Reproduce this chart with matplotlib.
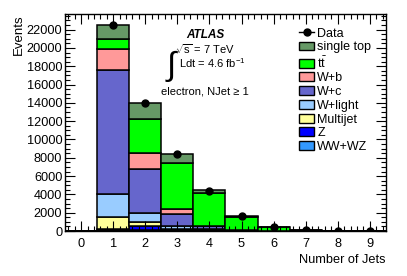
import numpy as np
import matplotlib.pyplot as plt
from matplotlib.patches import Patch
from matplotlib.lines import Line2D
from matplotlib.ticker import MultipleLocator

plt.rcParams['font.family'] = ['Liberation Sans', 'DejaVu Sans']
plt.rcParams['mathtext.fontset'] = 'custom'
plt.rcParams['mathtext.rm'] = 'Liberation Sans'
plt.rcParams['mathtext.it'] = 'Liberation Sans:italic'

njets = np.arange(10)

# stacked backgrounds, bottom to top
ww_wz      = [0, 80, 100, 60, 30, 10, 3, 1, 0, 0]
z_jets     = [0, 150, 400, 80, 30, 10, 3, 1, 0, 0]
multijet   = [0, 1330, 450, 80, 40, 10, 3, 1, 0, 0]
w_light    = [0, 2480, 1000, 300, 100, 30, 10, 3, 1, 0]
w_c        = [0, 13560, 4800, 1310, 300, 50, 10, 3, 1, 0]
w_b        = [0, 2300, 1740, 620, 60, 20, 5, 1, 0, 0]
ttbar      = [0, 1100, 3750, 5020, 3550, 1400, 360, 80, 18, 4]
single_top = [0, 1500, 1760, 920, 380, 120, 30, 8, 2, 0.5]

data = [np.nan, 22500, 14000, 8400, 4400, 1650, 440, 110, 25, 5]

samples = [
    ("WW+WZ", ww_wz, "#3399ff"),
    ("Z", z_jets, "#0000ff"),
    ("Multijet", multijet, "#ffff99"),
    ("W+light", w_light, "#99ccff"),
    ("W+c", w_c, "#6666cc"),
    ("W+b", w_b, "#ff9999"),
    (r"$\mathrm{t\bar{t}}$", ttbar, "#00ff00"),
    ("single top", single_top, "#669966"),
]

fig = plt.figure(figsize=(4.07, 2.76), dpi=100)
ax = fig.add_axes([0.160, 0.163, 0.788, 0.786])

bottom = np.zeros(len(njets))
for name, vals, col in samples:
    vals = np.array(vals, dtype=float)
    ax.bar(njets, vals, width=1.0, bottom=bottom, color=col,
           edgecolor="black", linewidth=1.1)
    bottom += vals

ax.errorbar(njets, data, yerr=np.sqrt(np.nan_to_num(data)), fmt="o",
            color="black", markersize=5, elinewidth=1, capsize=0, zorder=5)

ax.set_xlim(-0.5, 9.5)
ax.set_ylim(0, 23700)
ax.xaxis.set_major_locator(MultipleLocator(1))
ax.xaxis.set_minor_locator(MultipleLocator(0.2))
ax.yaxis.set_major_locator(MultipleLocator(2000))
ax.yaxis.set_minor_locator(MultipleLocator(500))
ax.tick_params(which="both", direction="in", top=True, right=True,
               labelsize=9.2, width=0.8)
ax.tick_params(which="major", length=7)
ax.tick_params(which="minor", length=3.5)
ax.tick_params(axis="x", pad=5)
ax.tick_params(axis="y", pad=2)
for s in ax.spines.values():
    s.set_linewidth(1.0)

ax.set_xlabel("Number of Jets", fontsize=9.2, loc="right", labelpad=3)
ax.set_ylabel("Events", fontsize=9.5, loc="top", labelpad=1)

# ATLAS label
ax.text(0.436, 0.903, "ATLAS", transform=ax.transAxes, ha="center",
        va="center", fontsize=8.5, fontweight="bold", fontstyle="italic")
ax.text(0.436, 0.839, r"$\sqrt{\mathrm{s}}$ = 7 TeV", transform=ax.transAxes,
        ha="center", va="center", fontsize=8)
ax.text(0.333, 0.762, r"$\int$", transform=ax.transAxes,
        ha="center", va="center", fontsize=24)
ax.text(0.355, 0.774, r"Ldt = 4.6 fb$^{-1}$", transform=ax.transAxes,
        ha="left", va="center", fontsize=8)
ax.text(0.436, 0.645, "electron, NJet \u2265 1", transform=ax.transAxes,
        ha="center", va="center", fontsize=8)

handles = [Line2D([], [], color="black", marker="o", markersize=5, lw=1)]
labels = ["Data"]
for name, vals, col in reversed(samples):
    handles.append(Patch(facecolor=col, edgecolor="black", linewidth=1))
    labels.append(name)
ax.legend(handles, labels, loc="upper left", bbox_to_anchor=(0.735, 0.90),
          bbox_transform=fig.transFigure, borderpad=0, borderaxespad=0,
          frameon=False, fontsize=9, handlelength=1.2, handleheight=0.72,
          handletextpad=0.25, labelspacing=0.14)

fig.savefig("out.png", dpi=100)
